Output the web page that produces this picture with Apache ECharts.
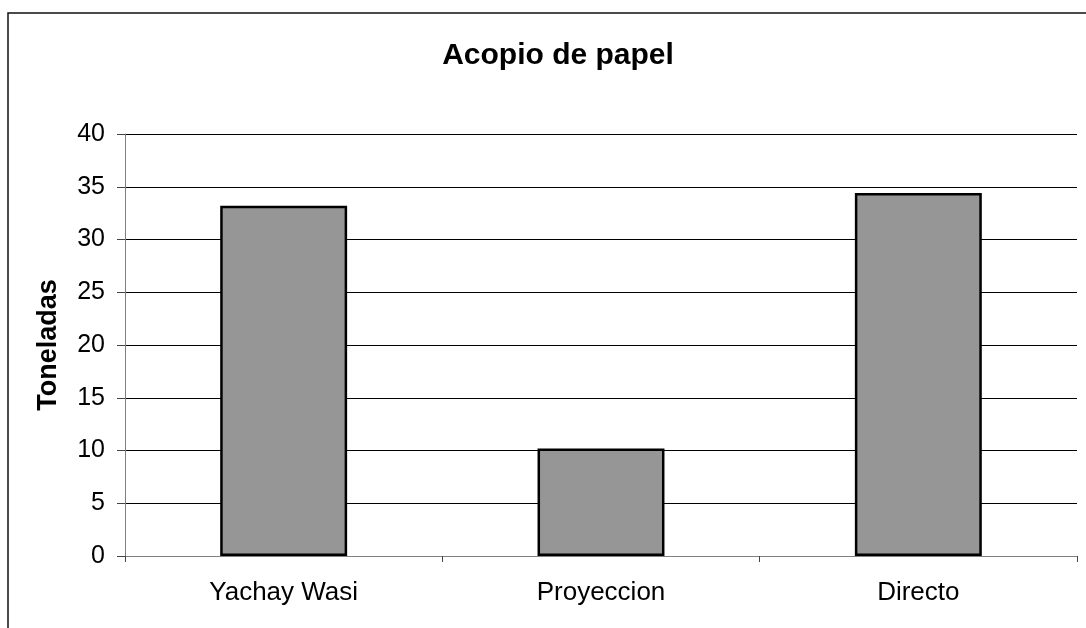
<!DOCTYPE html>
<html>
<head>
<meta charset="utf-8">
<script src="https://cdn.jsdelivr.net/npm/echarts@6/dist/echarts.min.js"></script>
<style>
html,body{margin:0;padding:0;background:#fff;}
#chart{width:1086px;height:628px;}
</style>
</head>
<body>
<div id="chart"></div>
<script>
const categories = ["Yachay Wasi", "Proyeccion", "Directo"];
const values = [33.2, 10.2, 34.4];
const yTicks = { min: 0, max: 40, interval: 5 };
const titleText = "Acopio de papel";
const yName = "Toneladas";

const chart = echarts.init(document.getElementById('chart'), null, {renderer: 'canvas'});
const FONT = 'Liberation Sans, Arial, sans-serif';
chart.setOption({
  animation: false,
  backgroundColor: '#ffffff',
  title: {
    text: titleText,
    left: 553,
    top: 36,
    textAlign: 'center',
    textStyle: { fontFamily: FONT, fontWeight: 'bold', fontSize: 30, color: '#000' }
  },
  graphic: [{
    type: 'rect',
    shape: { x: 8, y: 13, width: 1200, height: 800 },
    style: { fill: 'none', stroke: '#111', lineWidth: 1.5 },
    silent: true, z: -1
  }],
  grid: { left: 125, right: 9, top: 134, bottom: 72, containLabel: false },
  xAxis: {
    type: 'category',
    data: categories,
    boundaryGap: true,
    axisLine: { lineStyle: { color: '#808080', width: 1 } },
    axisTick: { show: true, alignWithLabel: false, length: 6, lineStyle: { color: '#444' } },
    axisLabel: { fontFamily: FONT, fontSize: 26, color: '#000', margin: 24 },
    splitLine: { show: false }
  },
  yAxis: {
    type: 'value',
    min: yTicks.min, max: yTicks.max, interval: yTicks.interval,
    name: yName,
    nameLocation: 'middle',
    nameRotate: 90,
    nameGap: 63,
    nameTextStyle: { fontFamily: FONT, fontWeight: 'bold', fontSize: 27, color: '#000' },
    axisLine: { show: true, lineStyle: { color: '#808080', width: 1 } },
    axisTick: { show: true, inside: false, length: 8, lineStyle: { color: '#444' } },
    axisLabel: { fontFamily: FONT, fontSize: 25, color: '#000', margin: 20 },
    splitLine: { show: true, lineStyle: { color: '#000', width: 1 } }
  },
  series: [{
    type: 'bar',
    data: values,
    barWidth: '40%',
    itemStyle: { color: '#969696', borderColor: '#000', borderWidth: 2.5 }
  }]
});
</script>
</body>
</html>
